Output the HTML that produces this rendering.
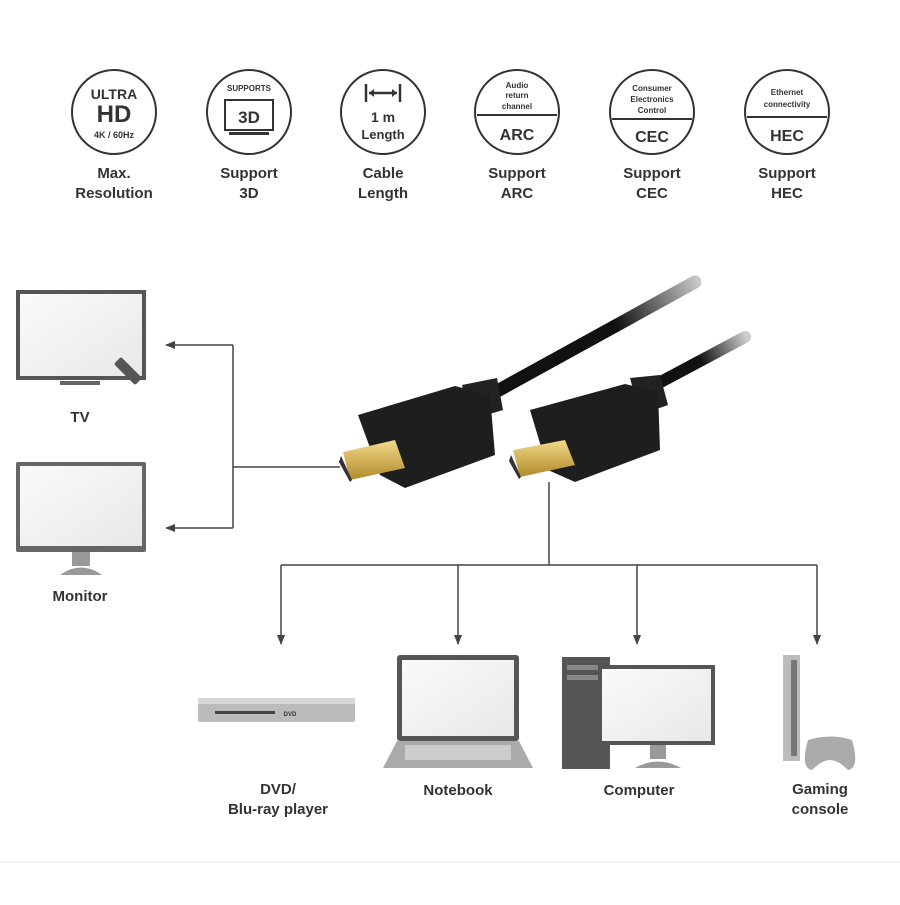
<!DOCTYPE html>
<html><head><style>
body{margin:0;background:#fff;}
svg text{font-family:"Liberation Sans",Arial,sans-serif;font-weight:bold;fill:#333;text-anchor:middle;}
</style></head><body>
<svg width="900" height="900" viewBox="0 0 900 900" xmlns="http://www.w3.org/2000/svg">
<defs>
<marker id="ah" markerWidth="10" markerHeight="10" refX="9" refY="5" orient="auto" markerUnits="userSpaceOnUse"><path d="M0,1 L10,5 L0,9 Z" fill="#444"/></marker>
<linearGradient id="gold" x1="0" y1="0" x2="0" y2="1"><stop offset="0" stop-color="#f3d98a"/><stop offset="1" stop-color="#b08a2a"/></linearGradient>
<linearGradient id="scr" x1="0" y1="0" x2="1" y2="1"><stop offset="0" stop-color="#fafafa"/><stop offset="1" stop-color="#e8e8e8"/></linearGradient>
<linearGradient id="c1" x1="490" y1="395" x2="700" y2="280" gradientUnits="userSpaceOnUse"><stop offset="0.6" stop-color="#111"/><stop offset="1" stop-color="#ccc"/></linearGradient>
<linearGradient id="c2" x1="655" y1="385" x2="745" y2="335" gradientUnits="userSpaceOnUse"><stop offset="0.5" stop-color="#111"/><stop offset="1" stop-color="#ccc"/></linearGradient>
</defs>
<g fill="none" stroke="#333" stroke-width="2">
<circle cx="114" cy="112" r="42"/><circle cx="249" cy="112" r="42"/><circle cx="383" cy="112" r="42"/>
<circle cx="517" cy="112" r="42"/><circle cx="652" cy="112" r="42"/><circle cx="787" cy="112" r="42"/>
</g>
<text x="114" y="99" font-size="14">ULTRA</text>
<text x="114" y="122" font-size="24">HD</text>
<text x="114" y="138" font-size="9">4K / 60Hz</text>
<text x="249" y="91" font-size="8">SUPPORTS</text>
<rect x="225" y="100" width="48" height="30" fill="none" stroke="#333" stroke-width="2"/>
<rect x="229" y="132" width="40" height="3" fill="#333"/>
<text x="249" y="123" font-size="17">3D</text>
<path d="M366,84 V102 M400,84 V102 M369,93 H397" stroke="#333" stroke-width="2.5" fill="none"/>
<path d="M369,93 l5,-4 v8z M397,93 l-5,-4 v8z" fill="#333"/>
<text x="383" y="122" font-size="14">1 m</text>
<text x="383" y="139" font-size="13">Length</text>
<text x="517" y="88" font-size="8">Audio</text><text x="517" y="98" font-size="8">return</text><text x="517" y="109" font-size="8">channel</text>
<line x1="477" y1="115" x2="557" y2="115" stroke="#333" stroke-width="2"/>
<text x="517" y="140" font-size="16">ARC</text>
<text x="652" y="91" font-size="8">Consumer</text><text x="652" y="102" font-size="8">Electronics</text><text x="652" y="113" font-size="8">Control</text>
<line x1="612" y1="119" x2="692" y2="119" stroke="#333" stroke-width="2"/>
<text x="652" y="142" font-size="16">CEC</text>
<text x="787" y="95" font-size="8">Ethernet</text><text x="787" y="107" font-size="8">connectivity</text>
<line x1="747" y1="117" x2="827" y2="117" stroke="#333" stroke-width="2"/>
<text x="787" y="141" font-size="16">HEC</text>
<g font-size="15">
<text x="114" y="178">Max.</text><text x="114" y="198">Resolution</text>
<text x="249" y="178">Support</text><text x="249" y="198">3D</text>
<text x="383" y="178">Cable</text><text x="383" y="198">Length</text>
<text x="517" y="178">Support</text><text x="517" y="198">ARC</text>
<text x="652" y="178">Support</text><text x="652" y="198">CEC</text>
<text x="787" y="178">Support</text><text x="787" y="198">HEC</text>
</g>
<path d="M490,395 L695,282" stroke="url(#c1)" stroke-width="13" stroke-linecap="round" fill="none"/>
<path d="M655,385 L745,337" stroke="url(#c2)" stroke-width="12" stroke-linecap="round" fill="none"/>
<path d="M462,385 L497,378 L503,410 L470,420 Z" fill="#222"/>
<path d="M630,378 L660,375 L668,405 L640,415 Z" fill="#222"/>
<path d="M358,415 L455,386 L490,395 L495,455 L405,488 L380,475 Z" fill="#1e1e1e"/>
<path d="M530,410 L625,384 L658,392 L660,450 L575,482 L548,470 Z" fill="#1e1e1e"/>
<path d="M343,452 L395,440 L405,468 L350,480 Z" fill="url(#gold)"/>
<path d="M341,456 L352,480 L350,482 L339,462 Z" fill="#333"/>
<path d="M513,450 L565,440 L575,465 L520,477 Z" fill="url(#gold)"/>
<path d="M511,455 L521,477 L519,479 L509,461 Z" fill="#333"/>
<g stroke="#444" stroke-width="1.5" fill="none">
<path d="M340,467 H233 M233,345 V528"/>
<path d="M233,345 H166" marker-end="url(#ah)"/>
<path d="M233,528 H166" marker-end="url(#ah)"/>
<path d="M549,482 V565 M281,565 H817"/>
<path d="M281,565 V644" marker-end="url(#ah)"/>
<path d="M458,565 V644" marker-end="url(#ah)"/>
<path d="M637,565 V644" marker-end="url(#ah)"/>
<path d="M817,565 V644" marker-end="url(#ah)"/>
</g>
<rect x="16" y="290" width="130" height="90" fill="#555"/>
<rect x="20" y="294" width="122" height="82" fill="url(#scr)"/>
<rect x="60" y="381" width="40" height="4" fill="#666"/>
<rect x="123" y="356" width="10" height="30" rx="2" fill="#555" transform="rotate(-45 128 371)"/>
<rect x="16" y="462" width="130" height="90" rx="2" fill="#666"/>
<rect x="20" y="466" width="122" height="80" fill="url(#scr)"/>
<rect x="72" y="552" width="18" height="14" fill="#999"/>
<path d="M60,575 Q81,560 102,575 Z" fill="#999"/>
<text x="80" y="422" font-size="15">TV</text>
<text x="80" y="601" font-size="15">Monitor</text>
<rect x="198" y="698" width="157" height="24" rx="2" fill="#bbb"/>
<rect x="198" y="698" width="157" height="6" fill="#d6d6d6"/>
<rect x="215" y="711" width="60" height="3" fill="#444"/>
<text x="290" y="716" font-size="6" fill="#333">DVD</text>
<rect x="397" y="655" width="122" height="86" rx="3" fill="#555"/>
<rect x="402" y="660" width="112" height="76" fill="url(#scr)"/>
<path d="M397,741 H519 L533,768 H383 Z" fill="#aaa"/>
<rect x="405" y="745" width="106" height="15" fill="#ccc"/>
<rect x="562" y="657" width="48" height="112" fill="#555"/>
<rect x="567" y="665" width="38" height="5" fill="#888"/><rect x="567" y="675" width="38" height="5" fill="#888"/>
<rect x="598" y="665" width="117" height="80" fill="#555"/>
<rect x="602" y="669" width="109" height="72" fill="url(#scr)"/>
<rect x="650" y="745" width="16" height="14" fill="#999"/>
<path d="M635,768 Q658,755 681,768 Z" fill="#999"/>
<rect x="783" y="655" width="17" height="106" fill="#bbb"/>
<rect x="791" y="660" width="6" height="96" fill="#777"/>
<path d="M808,740 Q832,733 852,740 Q860,768 848,770 Q838,760 830,760 Q822,760 812,770 Q800,768 808,740 Z" fill="#aaa"/>
<g font-size="15">
<text x="278" y="794">DVD/</text><text x="278" y="814">Blu-ray player</text>
<text x="458" y="795">Notebook</text>
<text x="639" y="795">Computer</text>
<text x="820" y="794">Gaming</text><text x="820" y="814">console</text>
</g>
<line x1="0" y1="862" x2="900" y2="862" stroke="#e6e6e6" stroke-width="1"/>
</svg>
</body></html>
